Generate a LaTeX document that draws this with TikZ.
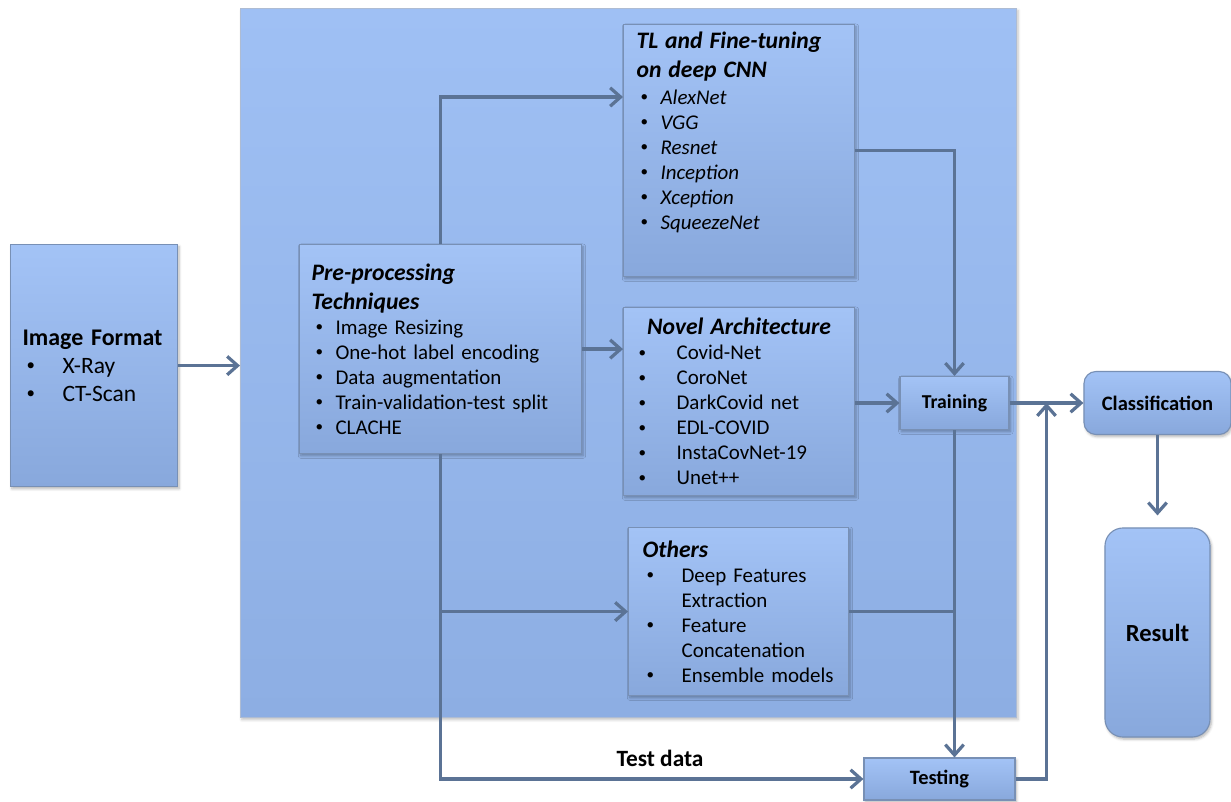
\documentclass[tikz,border=0pt]{standalone}
\usepackage{fontspec}
\usepackage{graphicx}
\setmainfont{Carlito}
\usetikzlibrary{arrows.meta, positioning, calc, shadows.blur}
\definecolor{cLine}{HTML}{5B7395}
\definecolor{cTop}{HTML}{A3C3F6}
\definecolor{cBot}{HTML}{88A8DC}
\definecolor{cEdge}{HTML}{7890B5}
\definecolor{cPanelTop}{HTML}{9FC0F4}
\definecolor{cPanelBot}{HTML}{8DAEE3}
\tikzset{
  >={Straight Barb[length=2.6mm,width=4.6mm]},
  flow/.style={draw=cLine, line width=2.3pt},
  arr/.style={flow, ->},
  panel/.style={draw=cEdge!60, line width=0.6pt, top color=cPanelTop, bottom color=cPanelBot,
      anchor=north west, inner sep=0pt,
      blur shadow={shadow blur steps=5, shadow xshift=1pt, shadow yshift=-1.5pt, shadow opacity=25}},
  listbox/.style={draw=cEdge, line width=0.8pt, top color=cTop, bottom color=cBot,
      inner ysep=4pt, align=left, anchor=north west, text=black,
      blur shadow={shadow blur steps=5, shadow xshift=1pt, shadow yshift=-1.5pt, shadow opacity=30}},
  smallbox/.style={listbox, anchor=center, align=center, inner sep=2pt},
  roundbox/.style 2 args={smallbox, rounded corners=#1, font=\bfseries\fontsize{#2}{#2}\selectfont},
}
\newcommand{\bodyf}{\fontsize{14.9}{17.8}\selectfont}
\newcommand{\ttlf}{\fontsize{16.8}{20.6}\selectfont\bfseries\itshape}
\newcommand{\bul}[1]{\makebox[#1][l]{\hspace*{0.1cm}\raisebox{0.12em}{\scalebox{0.72}{\upshape\textbullet}}}}

\begin{document}
\begin{tikzpicture}[x=0.025cm, y=-0.025cm]
\useasboundingbox (0,0) rectangle (1231,802);

% ===================== background panel =====================
\node[panel, minimum width=19.4cm, minimum height=17.725cm] (bg) at (240,8) {};

% ===================== input =====================
\node[listbox, inner xsep=0.3cm, text width=3.575cm, minimum height=6.05cm,
      font=\fontsize{16.7}{20}\selectfont] (img) at (10,244)
     {{\bfseries\fontsize{17}{22}\selectfont Image Format\par}
      \bul{1cm}X-Ray\\
      \bul{1cm}CT-Scan};

% ===================== pre-processing =====================
\node[listbox, inner xsep=0.3cm, text width=6.45cm, minimum height=5.225cm, font=\bodyf] (prep) at (299,244)
     {{\ttlf Pre-processing\\ Techniques\par}
      \bul{0.6cm}Image Resizing\\
      \bul{0.6cm}One-hot label encoding\\
      \bul{0.6cm}Data augmentation\\
      \bul{0.6cm}Train-validation-test split\\
      \bul{0.6cm}CLACHE};

% ===================== model families =====================
\node[listbox, inner xsep=0.325cm, text width=5.125cm, minimum height=6.3cm, font=\bodyf\itshape] (tl) at (623,24)
     {{\ttlf TL and Fine-tuning\\ on deep CNN\par}\vspace{0.05cm}
      \bul{0.6cm}AlexNet\\
      \bul{0.6cm}VGG\\
      \bul{0.6cm}Resnet\\
      \bul{0.6cm}Inception\\
      \bul{0.6cm}Xception\\
      \bul{0.6cm}SqueezeNet\rule[-1.0cm]{0pt}{0pt}};

\node[listbox, inner xsep=0.275cm, text width=5.225cm, minimum height=4.7cm, font=\bodyf] (novel) at (623,307)
     {{\centering\ttlf Novel Architecture\par}
      \bul{1.05cm}Covid-Net\\
      \bul{1.05cm}CoroNet\\
      \bul{1.05cm}DarkCovid net\\
      \bul{1.05cm}EDL-COVID\\
      \bul{1.05cm}InstaCovNet-19\\
      \bul{1.05cm}Unet++};

\node[listbox, inner xsep=0.35cm, text width=4.8cm, minimum height=4.2cm, font=\bodyf] (others) at (628,527)
     {{\ttlf Others\par}
      \bul{0.975cm}Deep Features\\
      \hspace*{0.975cm}Extraction\\
      \bul{0.975cm}Feature\\
      \hspace*{0.975cm}Concatenation\\
      \bul{0.975cm}Ensemble models};

% ===================== training / testing / output =====================
\node[smallbox, minimum width=2.725cm, minimum height=1.325cm, font=\bfseries\fontsize{14}{17}\selectfont] (train) at (954.5,403) {Training};
\node[smallbox, minimum width=3.775cm, minimum height=1.05cm, font=\bfseries\fontsize{14.5}{17}\selectfont] (testing) at (939.5,779) {Testing};
\node[roundbox={0.3cm}{14.6}, minimum width=3.675cm, minimum height=1.575cm] (classif) at (1157.5,403) {Classification};
\node[roundbox={0.45cm}{17.5}, minimum width=2.625cm, minimum height=5.225cm] (result) at (1157.5,632.5) {Result};
\node[font=\bfseries\fontsize{16.6}{20}\selectfont] (testlbl) at (660,758) {Test data};

% ===================== connectors =====================
\draw[arr] (img.east) -- (img.east -| bg.west);
\draw[arr] (prep.north) |- ([yshift=-1.825cm]tl.north west);
\draw[arr] (prep.east) -- (prep.east -| novel.west);
\draw[arr] (prep.south) |- (testing.west);
\draw[arr] (prep.south |- others.west) -- (others.west);
\draw[arr] (tl.east) -| (train.north);
\draw[arr] (train.west -| novel.east) -- (train.west);
\draw[flow] (others.east) -- (others.east -| train.south);
\draw[arr] (train.south) -- (train.south |- testing.north);
\draw[arr] (train.east) -- (train.east -| classif.west);
\coordinate (merge) at ($(train.east)!0.5!(train.east -| classif.west)$);
\draw[arr] (testing.east) -| (merge);
\draw[arr, shorten >=0.3cm] (classif.south) -- (result.north);

\end{tikzpicture}
\end{document}
